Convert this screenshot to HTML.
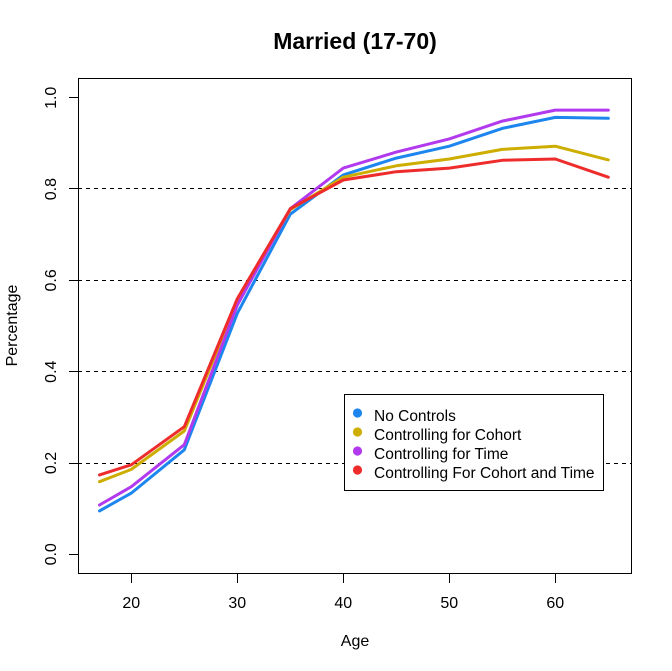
<!DOCTYPE html>
<html>
<head>
<meta charset="utf-8">
<style>
html,body{margin:0;padding:0;background:#fff;}
svg{display:block;}
text{font-family:"Liberation Sans",Arial,sans-serif;fill:#000;}
</style>
</head>
<body>
<svg width="672" height="671" viewBox="0 0 672 671" xmlns="http://www.w3.org/2000/svg">
<rect width="672" height="671" fill="#fff"/>
<!-- title -->
<text x="355" y="49" font-size="23" font-weight="bold" text-anchor="middle">Married (17-70)</text>
<!-- dashed gridlines -->
<g stroke="#000" stroke-width="1" stroke-dasharray="4,4" shape-rendering="crispEdges">
<line x1="78" y1="463.5" x2="632" y2="463.5"/>
<line x1="78" y1="371.5" x2="632" y2="371.5"/>
<line x1="78" y1="280.5" x2="632" y2="280.5"/>
<line x1="78" y1="188.5" x2="632" y2="188.5"/>
</g>
<!-- series -->
<g fill="none" stroke-width="3" stroke-linejoin="round" stroke-linecap="round">
<polyline stroke="#1C86EE" points="99.5,510.9 131.3,493.1 184.3,449.8 237.3,313.3 290.3,214.2 343.3,174.9 396.3,158.1 449.3,146.2 502.3,128.4 555.3,117.4 608.3,118.3"/>
<polyline stroke="#CDAD00" points="99.5,481.7 131.3,469.4 184.3,431.0 237.3,300.9 290.3,209.6 343.3,177.2 396.3,165.8 449.3,159.0 502.3,149.4 555.3,146.2 608.3,159.9"/>
<polyline stroke="#B23AEE" points="99.5,505.0 131.3,486.7 184.3,444.7 237.3,305.1 290.3,208.7 343.3,168.1 396.3,152.1 449.3,138.9 502.3,121.1 555.3,110.1 608.3,110.1"/>
<polyline stroke="#EE2C2C" points="99.5,474.9 131.3,464.8 184.3,426.7 237.3,298.7 290.3,208.7 343.3,180.0 396.3,171.7 449.3,168.1 502.3,160.3 555.3,159.0 608.3,177.2"/>
</g>
<!-- box -->
<rect x="78.5" y="78.5" width="553" height="495" fill="none" stroke="#000" stroke-width="1" shape-rendering="crispEdges"/>
<!-- ticks -->
<g stroke="#000" stroke-width="1" shape-rendering="crispEdges">
<line x1="69" y1="554.5" x2="78" y2="554.5"/>
<line x1="69" y1="463.5" x2="78" y2="463.5"/>
<line x1="69" y1="371.5" x2="78" y2="371.5"/>
<line x1="69" y1="280.5" x2="78" y2="280.5"/>
<line x1="69" y1="188.5" x2="78" y2="188.5"/>
<line x1="69" y1="97.5" x2="78" y2="97.5"/>
<line x1="131.5" y1="574" x2="131.5" y2="583"/>
<line x1="237.5" y1="574" x2="237.5" y2="583"/>
<line x1="343.5" y1="574" x2="343.5" y2="583"/>
<line x1="449.5" y1="574" x2="449.5" y2="583"/>
<line x1="555.5" y1="574" x2="555.5" y2="583"/>
</g>
<!-- x tick labels -->
<g font-size="16" text-anchor="middle">
<text x="131.3" y="608">20</text>
<text x="237.3" y="608">30</text>
<text x="343.3" y="608">40</text>
<text x="449.3" y="608">50</text>
<text x="555.3" y="608">60</text>
</g>
<!-- y tick labels -->
<g font-size="16" text-anchor="middle">
<text transform="translate(56,554.3) rotate(-90)">0.0</text>
<text transform="translate(56,463.0) rotate(-90)">0.2</text>
<text transform="translate(56,371.7) rotate(-90)">0.4</text>
<text transform="translate(56,280.4) rotate(-90)">0.6</text>
<text transform="translate(56,189.1) rotate(-90)">0.8</text>
<text transform="translate(56,97.8) rotate(-90)">1.0</text>
</g>
<!-- axis titles -->
<text x="355" y="646" font-size="16" text-anchor="middle">Age</text>
<text transform="translate(17,325.5) rotate(-90)" font-size="16" text-anchor="middle">Percentage</text>
<!-- legend -->
<rect x="344.5" y="394.5" width="259" height="96" fill="#fff" stroke="#000" stroke-width="1" shape-rendering="crispEdges"/>
<circle cx="357.5" cy="413" r="4.6" fill="#1C86EE"/>
<circle cx="357.5" cy="432" r="4.6" fill="#CDAD00"/>
<circle cx="357.5" cy="451" r="4.6" fill="#B23AEE"/>
<circle cx="357.5" cy="470" r="4.6" fill="#EE2C2C"/>
<g font-size="15.5">
<text x="374" y="421">No Controls</text>
<text x="374" y="440">Controlling for Cohort</text>
<text x="374" y="459">Controlling for Time</text>
<text x="374" y="478">Controlling For Cohort and Time</text>
</g>
</svg>
</body>
</html>
